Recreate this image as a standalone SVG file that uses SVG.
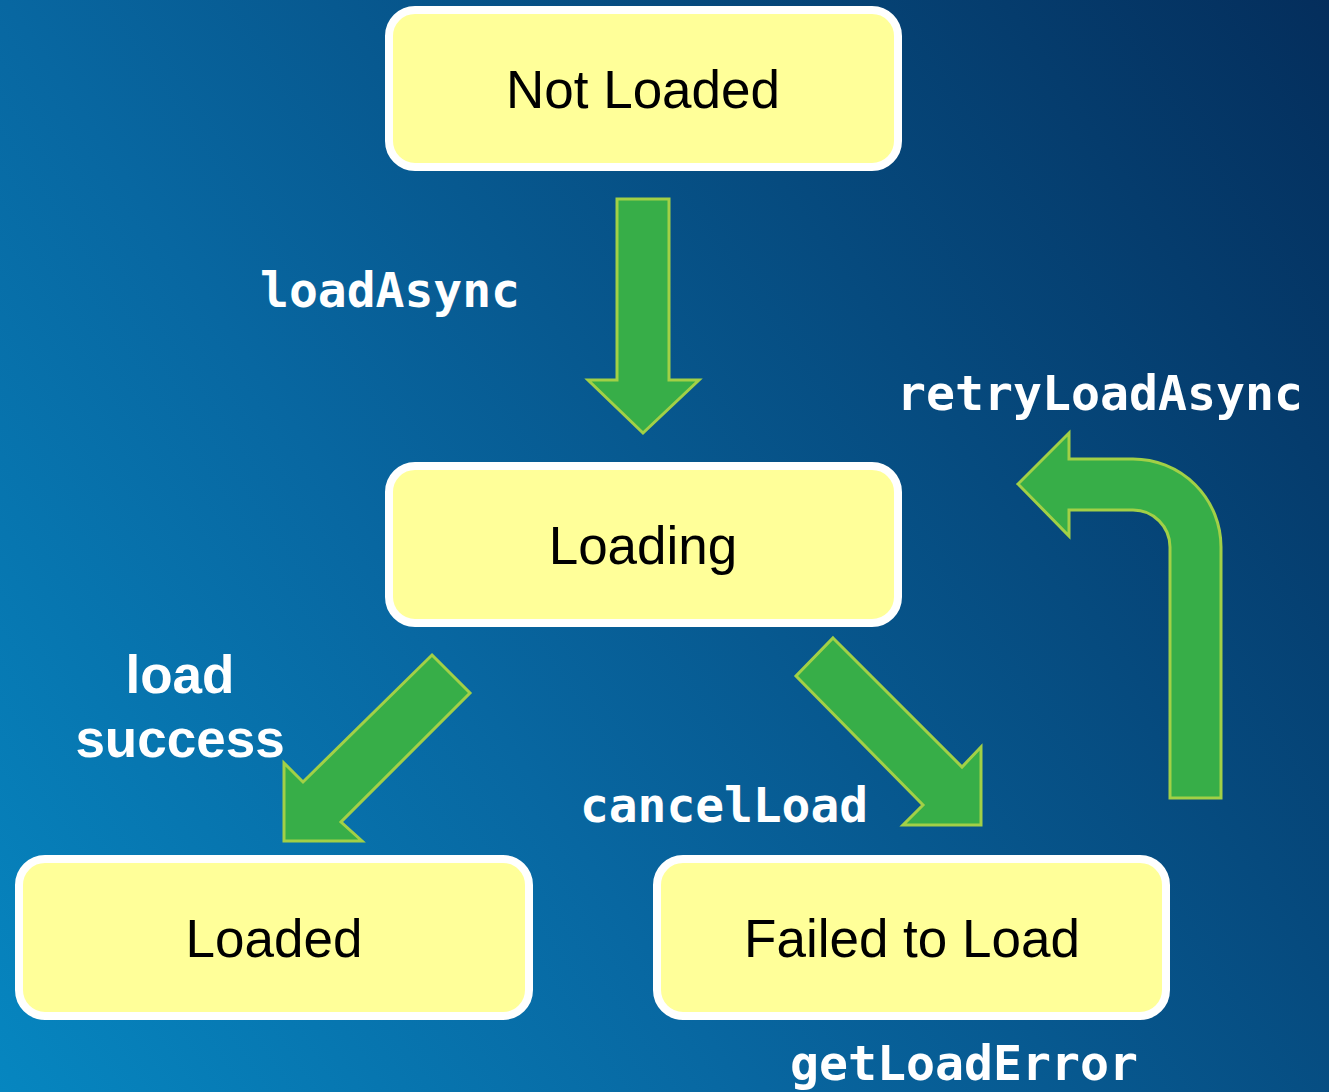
<svg xmlns="http://www.w3.org/2000/svg" width="1329" height="1092" viewBox="0 0 1329 1092">
  <defs>
    <linearGradient id="bg" gradientUnits="userSpaceOnUse" x1="0" y1="1092" x2="1418" y2="131">
      <stop offset="0" stop-color="#0686C0"/>
      <stop offset="0.36" stop-color="#0867A1"/>
      <stop offset="1" stop-color="#042E5C"/>
    </linearGradient>
  </defs>
  <style>
    .box { fill: #FFFF99; stroke: #FFFFFF; stroke-width: 8; }
    .boxtext { font-family: "Liberation Sans", Arial, sans-serif; font-size: 53px; fill: #000000; text-anchor: middle; }
    .arrow { fill: #37AE48; stroke: #A2D046; stroke-width: 3; stroke-linejoin: miter; }
    .code { font-family: "DejaVu Sans Mono", "Liberation Mono", monospace; font-weight: bold; font-size: 48px; fill: #FFFFFF; }
    .lbl { font-family: "Liberation Sans", Arial, sans-serif; font-weight: bold; font-size: 53px; fill: #FFFFFF; text-anchor: middle; }
  </style>
  <rect x="0" y="0" width="1329" height="1092" fill="url(#bg)"/>

  <g id="connectors">
    <polygon class="arrow" points="617,199 669,199 669,380 699,380 643,433 588,380 617,380"/>
    <polygon class="arrow" points="432,655 470,693 341,822 362,841 284,841 284,763 303,782"/>
    <polygon class="arrow" points="833,638 962,767 981,747 981,825 903,825 923,805 796,676"/>
    <path class="arrow" d="M1170,798 L1170,547 A37,37 0 0 0 1133,510 L1069,510 L1069,536 L1018,484 L1069,433 L1069,459 L1133,459 A88,88 0 0 1 1221,547 L1221,798 Z"/>
    <text class="code" x="260" y="307" textLength="260" lengthAdjust="spacingAndGlyphs">loadAsync</text>
    <text class="code" x="897" y="410" textLength="406" lengthAdjust="spacingAndGlyphs">retryLoadAsync</text>
    <text class="lbl" x="180" y="693">load</text>
    <text class="lbl" x="180" y="757">success</text>
    <text class="code" x="580" y="822" textLength="288" lengthAdjust="spacingAndGlyphs">cancelLoad</text>
    <text class="code" x="790" y="1080" textLength="348" lengthAdjust="spacingAndGlyphs">getLoadError</text>
  </g>

  <g id="node-not-loaded">
    <rect class="box" x="389" y="10" width="509" height="157" rx="26"/>
    <text class="boxtext" x="643" y="108">Not Loaded</text>
  </g>
  <g id="node-loading">
    <rect class="box" x="389" y="466" width="509" height="157" rx="26"/>
    <text class="boxtext" x="643" y="564">Loading</text>
  </g>
  <g id="node-loaded">
    <rect class="box" x="19" y="859" width="510" height="157" rx="26"/>
    <text class="boxtext" x="274" y="957">Loaded</text>
  </g>
  <g id="node-failed">
    <rect class="box" x="657" y="859" width="509" height="157" rx="26"/>
    <text class="boxtext" x="912" y="957">Failed to Load</text>
  </g>
</svg>
